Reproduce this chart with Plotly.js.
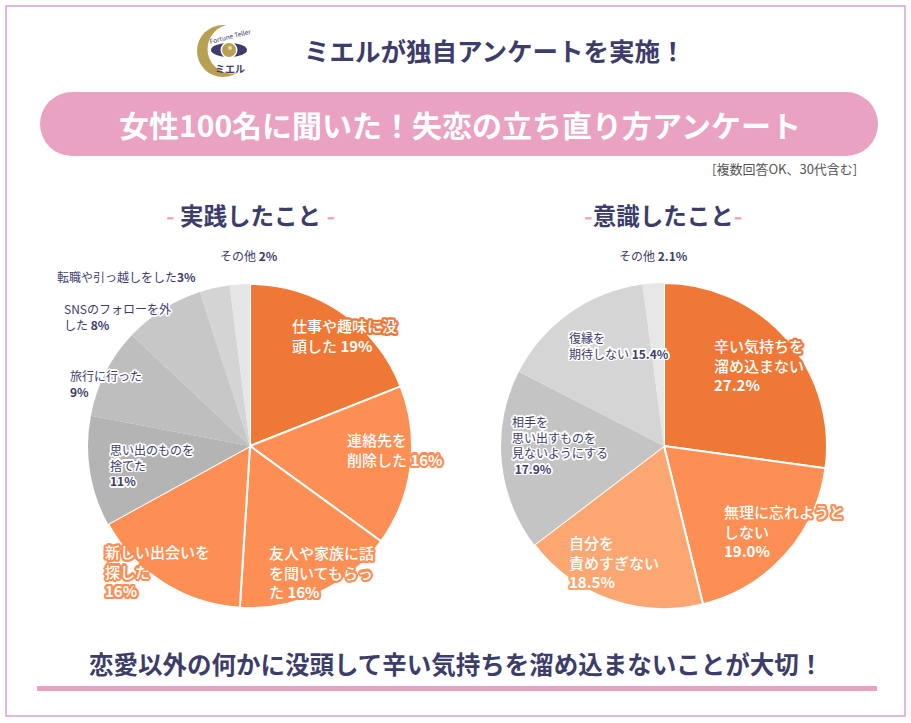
<!DOCTYPE html>
<html><head><meta charset="utf-8">
<script src="https://cdn.plot.ly/plotly-3.0.1.min.js"></script>
<style>html,body{margin:0;padding:0;background:#fff}#chart{width:911px;height:723px}</style>
</head><body><div id="chart"></div>
<script>
// ---- data ----
const leftCategories = ['仕事や趣味に没頭した','連絡先を削除した','友人や家族に話を聞いてもらった','新しい出会いを探した','思い出のものを捨てた','旅行に行った','SNSのフォローを外した','転職や引っ越しをした','その他'];
const leftValues = [19,16,16,16,11,9,8,3,2];
const leftLabelLines = [
  ['仕事や趣味に没','頭した %v'],
  ['連絡先を','削除した %v'],
  ['友人や家族に話','を聞いてもらっ','た %v'],
  ['新しい出会いを','探した','%v'],
  ['思い出のものを','捨てた','%v'],
  ['旅行に行った','%v'],
  ['SNSのフォローを外','した %v'],
  ['転職や引っ越しをした%v'],
  ['その他 %v']
];
const rightCategories = ['辛い気持ちを溜め込まない','無理に忘れようとしない','自分を責めすぎない','相手を思い出すものを見ないようにする','復縁を期待しない','その他'];
const rightValues = [27.2,19.0,18.5,17.9,15.4,2.1];
const rightLabelLines = [
  ['辛い気持ちを','溜め込まない','%v'],
  ['無理に忘れようと','しない','%v'],
  ['自分を','責めすぎない','%v'],
  ['相手を','思い出すものを','見ないようにする',' %v'],
  ['復縁を','期待しない %v'],
  ['その他 %v']
];
const rightDecimals = 1;

// ---- styling ----
const W = 911, H = 723;
const px = x => x / W, py = y => 1 - y / H;
const NAVY = '#3D3D6B', PINK = '#EAA2C2';
const FONT = '"Noto Sans CJK JP", "Noto Sans", sans-serif';
const leftColors = ['#F07837','#FD8F55','#FD8F55','#FD8F55','#B4B4B4','#BEBEBE','#C7C7C7','#D4D4D4','#E6E6E6'];
const rightColors = ['#F07837','#FD8F55','#FCA772','#C4C4C4','#D5D5D5','#E7E7E7'];
const leftLineW = [2,2,2,2,0,0,0,0,0];
const rightLineW = [2,2,2,0,0,0];
const leftPos = [[290,335,'o'],[345,449,'o'],[267,572,'o'],[103,571,'o'],[108,465,'g'],[68,383,'g'],[62,316,'g'],[55,276,'g'],[218,255,'g']];
const rightPos = [[712,365,'o'],[722,531,'o'],[567,562,'o'],[510,445,'g'],[567,345,'g'],[617,255,'g']];

function halo(c, d) {
  const s = [];
  for (let a = 0; a < 16; a++) {
    const t = a * Math.PI / 8;
    s.push((d*Math.cos(t)).toFixed(2)+'px '+(d*Math.sin(t)).toFixed(2)+'px 0 '+c);
  }
  return s.join(', ');
}

function pie(values, cats, colors, lw, cx, cy, r) {
  return {
    type: 'pie', values: values, labels: cats, sort: false, direction: 'clockwise', rotation: 0,
    marker: {colors: colors, line: {color: '#FFFFFF', width: lw}},
    textinfo: 'none', hoverinfo: 'none', showlegend: false,
    domain: {x: [px(cx - r), px(cx + r)], y: [py(cy + r), py(cy - r)]}
  };
}

const data = [
  pie(leftValues, leftCategories, leftColors, leftLineW, 250, 446, 162),
  pie(rightValues, rightCategories, rightColors, rightLineW, 664, 446, 163)
];

const annotations = [];
function addLabels(lines, values, pos, colors, dec) {
  lines.forEach((ls, i) => {
    const v = dec ? values[i].toFixed(dec) : values[i];
    const txt = ls.join('<br>').replace('%v', '<b>' + v + '%</b>');
    const [x, y, kind] = pos[i];
    const orange = kind === 'o';
    annotations.push({
      xref: 'paper', yref: 'paper', x: px(x), y: py(y), xanchor: 'left', yanchor: 'middle',
      align: 'left', showarrow: false, text: txt,
      font: orange ? {family: FONT, size: 15, color: '#FFFFFF', weight: 500, shadow: halo(colors[i], 2.2)}
                   : {family: FONT, size: 12, color: NAVY, shadow: halo('#FFFFFF', 1.6)}
    });
  });
}
addLabels(leftLabelLines, leftValues, leftPos, leftColors, 0);
addLabels(rightLabelLines, rightValues, rightPos, rightColors, rightDecimals);

const txt = (x, y, text, size, color, extra) => Object.assign({
  xref: 'paper', yref: 'paper', x: px(x), y: py(y), xanchor: 'center', yanchor: 'middle',
  showarrow: false, text: text, font: {family: FONT, size: size, color: color, weight: 700}
}, extra || {});

const dash = '<span style="color:#F0A8C8">-</span>';
annotations.push(
  txt(494, 50, 'ミエルが独自アンケートを実施！', 25.5, NAVY),
  txt(460, 124, '女性100名に聞いた！失恋の立ち直り方アンケート', 30, '#FFFFFF'),
  txt(859, 168, '[複数回答OK、30代含む]', 12.5, '#555555', {xanchor: 'right', font: {family: FONT, size: 13, color: '#555555'}}),
  txt(250, 215, dash + ' 実践したこと ' + dash, 23.5, NAVY),
  txt(663, 215, dash + '意識したこと' + dash, 23.5, NAVY),
  txt(456, 663, '恋愛以外の何かに没頭して辛い気持ちを溜め込まないことが大切！', 24.5, NAVY),
  txt(230, 68, 'ミエル', 10, NAVY),
  txt(230, 36, 'Fortune Teller', 6.5, NAVY, {textangle: -14, font: {family: FONT, size: 6.5, color: NAVY}})
);

const rectP = (x0, y0, x1, y1, fill, line) => ({type: 'rect', xref: 'paper', yref: 'paper', x0: px(x0), x1: px(x1), y0: py(y1), y1: py(y0), fillcolor: fill, line: line || {width: 0}, layer: 'below'});
const circP = (cx, cy, r, fill) => ({type: 'circle', xref: 'paper', yref: 'paper', x0: px(cx - r), x1: px(cx + r), y0: py(cy + r), y1: py(cy - r), fillcolor: fill, line: {width: 0}, layer: 'below'});

const shapes = [
  rectP(6, 6, 905, 716, 'rgba(0,0,0,0)', {color: '#D9A3D3', width: 1.5}),
  rectP(72, 92, 846, 156, PINK), circP(72, 124, 32, PINK), circP(846, 124, 32, PINK),
  rectP(37, 686, 877, 691, PINK),
  // logo
  circP(223, 51, 26, '#B8A052'), circP(232, 49, 24.5, '#FFFFFF'),
  {type: 'circle', xref: 'paper', yref: 'paper', x0: px(211), x1: px(247), y0: py(57), y1: py(43), fillcolor: NAVY, line: {width: 0}, layer: 'below'},
  circP(229, 50, 8.5, '#FFFFFF'), circP(229, 50, 7, '#B8A052'), circP(230, 48, 2, '#E8DCA8')
];

const layout = {
  width: W, height: H, margin: {l: 0, r: 0, t: 0, b: 0},
  paper_bgcolor: '#FFFFFF', plot_bgcolor: '#FFFFFF',
  font: {family: FONT},
  annotations: annotations, shapes: shapes, showlegend: false
};
Plotly.newPlot('chart', data, layout, {displayModeBar: false, staticPlot: true});
</script></body></html>
